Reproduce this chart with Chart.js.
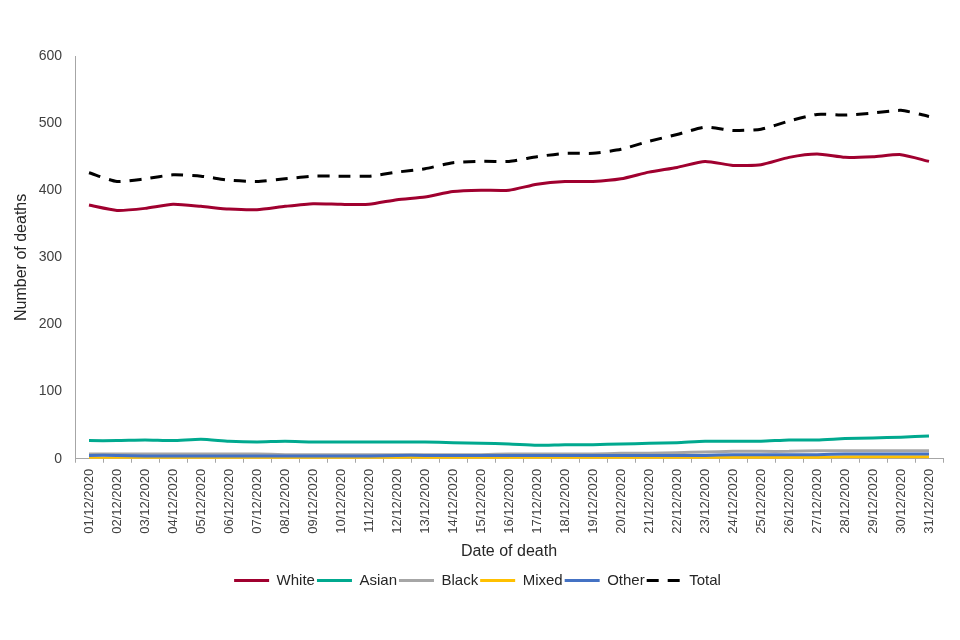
<!DOCTYPE html>
<html>
<head>
<meta charset="utf-8">
<script src="https://cdn.jsdelivr.net/npm/chart.js@4/dist/chart.umd.min.js"></script>
<style>
  html, body { margin: 0; padding: 0; background: #fff; }
  #wrap { width: 960px; height: 640px; }
</style>
</head>
<body>
<div id="wrap"><canvas id="deathsChart" width="960" height="640"></canvas></div>
<script>
const dates = ['01/12/2020', '02/12/2020', '03/12/2020', '04/12/2020', '05/12/2020', '06/12/2020', '07/12/2020',
  '08/12/2020', '09/12/2020', '10/12/2020', '11/12/2020', '12/12/2020', '13/12/2020', '14/12/2020', '15/12/2020',
  '16/12/2020', '17/12/2020', '18/12/2020', '19/12/2020', '20/12/2020', '21/12/2020', '22/12/2020', '23/12/2020',
  '24/12/2020', '25/12/2020', '26/12/2020', '27/12/2020', '28/12/2020', '29/12/2020', '30/12/2020', '31/12/2020'];

const white = [378, 370, 373, 379, 376, 372, 371, 376, 380, 379, 379, 386, 390, 398, 400, 400,
  409, 413, 413, 417, 427, 434, 443, 437, 438, 449, 454, 449, 450, 453, 443];
const asian = [27, 27, 28, 27, 29, 26, 25, 26, 25, 25, 25, 25, 25, 24, 23, 22,
  20, 21, 21, 22, 23, 24, 26, 26, 26, 28, 28, 30, 31, 32, 34];
const black = [7, 7, 7, 7, 7, 7, 7, 6, 6, 6, 6, 6, 6, 6, 6, 7,
  7, 7, 7, 8, 8, 9, 10, 11, 11, 11, 12, 12, 12, 12, 12];
const mixed = [1, 1, 1, 1, 1, 1, 1, 1, 1, 1, 1, 2, 2, 2, 2, 2,
  2, 2, 2, 2, 2, 2, 2, 2, 2, 2, 2, 3, 3, 3, 3];
const other = [5, 5, 4, 4, 4, 4, 4, 4, 4, 4, 4, 5, 5, 5, 5, 5,
  5, 5, 5, 5, 5, 5, 5, 6, 6, 6, 6, 7, 7, 7, 7];
const total = [426, 413, 417, 423, 421, 415, 413, 417, 421, 421, 421, 427, 432, 441, 443, 443,
  450, 455, 455, 461, 473, 483, 494, 489, 491, 503, 513, 512, 515, 519, 510];

const yTicks = [0, 100, 200, 300, 400, 500, 600];

const FONT = 'Liberation Sans, Arial, sans-serif';

function series(label, data, color, order, dash) {
  return {
    label: label,
    data: data,
    borderColor: color,
    backgroundColor: color,
    borderWidth: 3,
    borderDash: dash || [],
    pointRadius: 0,
    pointHoverRadius: 0,
    tension: 0.2,
    order: order
  };
}

const ctx = document.getElementById('deathsChart');
new Chart(ctx, {
  type: 'line',
  data: {
    labels: dates,
    datasets: [
      series('White', white, '#A0002F', 5),
      series('Asian', asian, '#00A98F', 4),
      series('Black', black, '#A6A6A6', 3),
      series('Mixed', mixed, '#FFC000', 2),
      series('Other', other, '#4472C4', 1),
      series('Total', total, '#000000', 0, [12, 9])
    ]
  },
  options: {
    responsive: false,
    animation: false,
    layout: { padding: { top: 56, right: 17, bottom: 42, left: 12 } },
    plugins: {
      tooltip: { enabled: false },
      legend: {
        position: 'bottom',
        labels: {
          usePointStyle: true,
          pointStyle: 'line',
          pointStyleWidth: 35,
          boxHeight: 3,
          padding: 2,
          color: '#262626',
          font: { family: FONT, size: 15 },
          sort: (a, b) => a.datasetIndex - b.datasetIndex,
          generateLabels: chart => Chart.defaults.plugins.legend.labels.generateLabels(chart).map(item => {
            item.lineDash = chart.data.datasets[item.datasetIndex].borderDash;
            return item;
          })
        }
      }
    },
    scales: {
      x: {
        offset: true,
        grid: { display: true, drawOnChartArea: false, drawTicks: true, tickLength: 4, offset: true, color: '#A6A6A6' },
        border: { color: '#A6A6A6', width: 1 },
        ticks: {
          autoSkip: false,
          minRotation: 90,
          maxRotation: 90,
          color: '#404040',
          padding: 6,
          font: { family: FONT, size: 13 }
        },
        title: {
          display: true,
          text: 'Date of death',
          color: '#262626',
          padding: { top: 2, bottom: 10 },
          font: { family: FONT, size: 16 }
        }
      },
      y: {
        min: 0,
        max: 600,
        afterBuildTicks: axis => { axis.ticks = yTicks.map(v => ({ value: v })); },
        afterFit: axis => { axis.width = 63; },
        grid: { display: false },
        border: { color: '#A6A6A6', width: 1 },
        ticks: {
          color: '#404040',
          padding: 5,
          font: { family: FONT, size: 14 }
        },
        title: {
          display: true,
          text: 'Number of deaths',
          color: '#262626',
          padding: { top: 0, bottom: 0 },
          font: { family: FONT, size: 16 }
        }
      }
    }
  }
});
</script>
</body>
</html>
